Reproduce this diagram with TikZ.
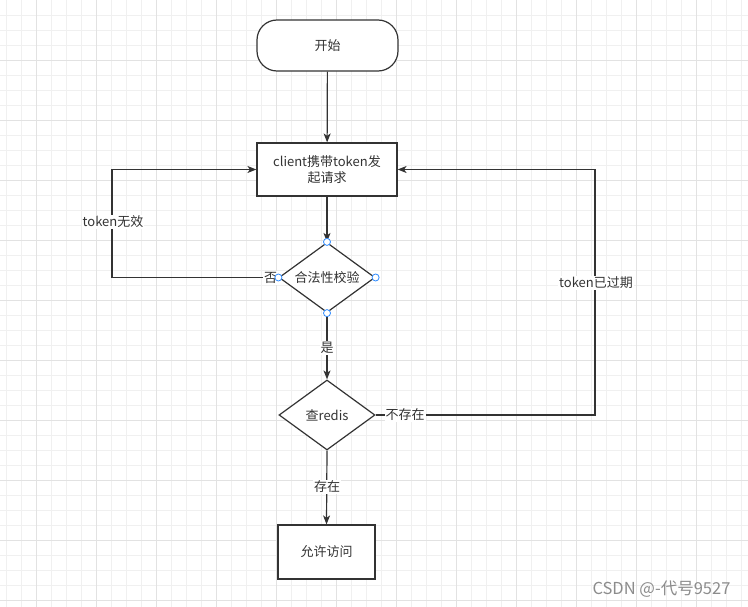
\documentclass[tikz,border=0pt]{standalone}
\usepackage{fontspec}
\setmainfont{Noto Sans CJK SC}
\usetikzlibrary{shapes.geometric,arrows.meta}
\definecolor{ln}{HTML}{333333}
\definecolor{gminor}{HTML}{F0F0F0}
\definecolor{gmajor}{HTML}{E2E2E2}
\definecolor{handle}{HTML}{2E8BFF}
\definecolor{wm}{HTML}{8C8C8C}
\begin{document}
\begin{tikzpicture}[x=1pt,y=-1pt,
  base/.style={draw=ln, line width=1.2pt, fill=white, text=ln, inner sep=0pt,
    font=\fontsize{13}{16}\selectfont},
  terminal/.style={base, rounded corners=20pt, minimum width=141pt, minimum height=51pt},
  procbox/.style={base, rectangle, minimum width=140pt, minimum height=53pt, align=center},
  decide/.style={base, diamond, shape aspect=1.4, minimum width=96pt, minimum height=70pt},
  handlept/.style={circle, draw=handle, fill=white, line width=0.8pt, minimum size=7pt, inner sep=0pt},
  conn/.style={draw=ln, line width=1.2pt},
  arr/.style={conn, -{Stealth[length=9pt,width=7pt,inset=2.5pt]}},
  lbl/.style={fill=white, text=ln, inner sep=1pt, font=\fontsize{13}{16}\selectfont},
  minorline/.style={draw=gminor, line width=0.8pt},
  majorline/.style={draw=gmajor, line width=0.8pt}
]
\useasboundingbox (0,0) rectangle (748,607);
\fill[white] (0,0) rectangle (748,607);
% grid
\foreach \i in {0,...,49} { \draw[minorline] (6.7+15*\i,0) -- (6.7+15*\i,607); }
\foreach \j in {1,...,40} { \draw[minorline] (0,15*\j) -- (748,15*\j); }
\foreach \i in {0,...,12} { \draw[majorline] (36.7+60*\i,0) -- (36.7+60*\i,607); }
\foreach \j in {1,...,10} { \draw[majorline] (0,60*\j) -- (748,60*\j); }

% nodes
\node[terminal] (start) at (327.5,45.5) {开始};
\node[procbox] (proc) at (327,169.5) {client携带token发\\起请求};
\node[decide] (d1) at (327,277.5) {合法性校验};
\node[decide] (d2) at (327,415) {查redis};
\node[procbox, minimum width=97pt, minimum height=54pt] (allow) at (326.5,552) {允许访问};

\coordinate (c1) at (112,277.5);
\coordinate (c2) at (595,415);

% connectors
\draw[arr] (start) -- (proc);
\draw[arr] (proc) -- (d1);
\draw[arr] (d1.west) -- (c1) |- (proc.west);
\draw[arr] (d1.south) -- (d2.north);
\draw[arr] (d2.east) -- (c2) |- (proc.east);
\draw[arr] (d2.south) -- (allow.north);

% labels
\node[lbl] (lno) at (270.5,278) {否};
\node[lbl] (linv) at (113,222) {token无效};
\node[lbl] (lyes) at (327,348) {是};
\node[lbl] (lnot) at (405,415) {不存在};
\node[lbl] (lexp) at (596,283) {token已过期};
\node[lbl] (lhas) at (327,487) {存在};

% handles on d1
\node[handlept] (h1) at (d1.north) {};
\node[handlept] (h2) at (d1.south) {};
\node[handlept] (h3) at (d1.west) {};
\node[handlept] (h4) at (d1.east) {};

% watermark
\node[text=wm, font=\fontsize{16.5}{18}\selectfont, inner sep=0pt] (wmark) at (661.5,589) {CSDN @-代号9527};
\end{tikzpicture}
\end{document}
